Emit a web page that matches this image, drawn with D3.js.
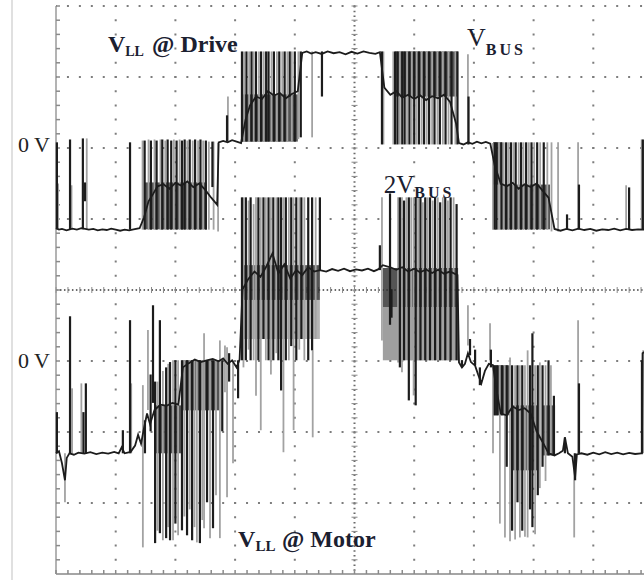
<!DOCTYPE html>
<html>
<head>
<meta charset="utf-8">
<script src="https://cdn.jsdelivr.net/npm/d3@7"></script>
<style>
  body { margin: 0; background: #fff; }
  svg { display: block; font-family: 'Liberation Serif', 'DejaVu Serif', serif; }
  .label { fill: #1b2030; }
</style>
</head>
<body>
<svg id="scope"></svg>
<script>
// Scope capture: time in ms (2 ms/div), voltage in V (200 V/div)
const timeDivs = [0, 2, 4, 6, 8, 10, 12, 14, 16, 18, 20];
const voltDivs = [-4, -3, -2, -1, 0, 1, 2, 3, 4];
const channelNames = ['drive', 'motor'];
const channelZero = [2.05, -0.99];        // channel 0 V position, in divisions
const zeroLabels = ['0 V', '0 V'];

// trace body [t, V]
const driveLine = [
  [0.00, -236], [0.10, -240], [0.20, -238], [0.35, -242], [0.55, -237], [0.70, -240], [0.85, -236],
  [1.10, -240], [1.25, -238], [1.40, -242], [1.55, -239], [1.70, -241], [1.85, -237], [2.00, -240],
  [2.15, -243], [2.30, -240], [2.45, -242], [2.60, -239], [2.80, -236], [2.95, -205], [3.10, -160],
  [3.25, -140], [3.40, -118], [3.60, -112], [3.80, -125], [4.00, -108], [4.20, -116], [4.40, -104],
  [4.60, -120], [4.80, -110], [5.00, -128], [5.20, -150], [5.40, -170], [5.45, 6], [5.60, 10],
  [5.75, 6], [5.90, 12], [6.05, 8], [6.20, 4], [6.35, 70], [6.50, 110], [6.70, 135], [6.90, 128],
  [7.10, 150], [7.30, 138], [7.50, 145], [7.70, 130], [7.90, 142], [8.10, 150], [8.25, 258],
  [8.40, 262], [8.55, 256], [8.70, 260], [8.90, 255], [9.10, 262], [9.30, 257], [9.50, 260],
  [9.70, 254], [9.90, 261], [10.10, 256], [10.30, 262], [10.50, 258], [10.70, 255], [10.85, 260],
  [11.00, 160], [11.20, 140], [11.40, 150], [11.60, 132], [11.80, 140], [12.00, 128], [12.20, 138],
  [12.40, 125], [12.60, 136], [12.80, 130], [13.00, 140], [13.20, 120], [13.40, 60], [13.50, 4],
  [13.65, 0], [13.80, 6], [13.95, 2], [14.10, 8], [14.25, 3], [14.40, 7], [14.55, 2], [14.70, -60],
  [14.90, -110], [15.10, -118], [15.30, -108], [15.50, -125], [15.70, -112], [15.90, -120],
  [16.10, -110], [16.30, -130], [16.50, -150], [16.70, -238], [16.90, -243], [17.10, -238],
  [17.30, -242], [17.50, -237], [17.70, -241], [17.90, -238], [18.10, -243], [18.30, -239],
  [18.50, -241], [18.70, -237], [18.90, -242], [19.10, -238], [19.30, -241], [19.50, -239], [19.70, -240]
];

// switching edges [t, V top, V bottom, tone] (tone 1 = dark, 0 = light)
const drivePulses = [
  [0.03, 6, -239, 1], [0.07, -110, -239, 0], [0.47, 14, -239, 1], [0.52, -115, -239, 0],
  [0.90, 17, -239, 1], [0.97, -107, -160, 1], [1.03, 17, -239, 0], [2.48, 6, -240, 1],
  [2.90, 11, -240, 0], [2.97, 11, -240, 1], [3.10, 14, -240, 0], [3.18, 11, -240, 1],
  [3.30, 14, -240, 0], [3.37, 11, -240, 1], [3.50, 14, -240, 0], [3.56, 14, -240, 1],
  [3.66, 11, -240, 0], [3.74, 14, -240, 1], [3.86, 11, -240, 1], [3.95, 14, -240, 0],
  [4.04, 11, -240, 1], [4.14, 14, -240, 0], [4.22, 11, -240, 1], [4.31, 14, -240, 1],
  [4.40, 11, -240, 0], [4.48, 14, -240, 1], [4.58, 11, -240, 0], [4.66, 14, -240, 1],
  [4.76, 11, -240, 0], [4.84, 14, -240, 1], [4.93, 11, -240, 0], [5.02, 11, -240, 1],
  [5.12, 8, -240, 0], [5.24, 8, -120, 1], [5.28, 8, -240, 0], [5.43, 4, -245, 0],
  [5.76, 135, 8, 0], [5.73, 82, 8, 1],
  [6.23, 262, 8, 1], [6.30, 262, 8, 0], [6.38, 262, 8, 1], [6.47, 262, 8, 0], [6.55, 262, 8, 1],
  [6.62, 262, 8, 0], [6.70, 262, 8, 1], [6.80, 262, 8, 0], [6.87, 262, 8, 1], [6.96, 262, 8, 0],
  [7.04, 262, 8, 1], [7.12, 262, 8, 1], [7.22, 262, 8, 0], [7.30, 262, 8, 1], [7.40, 262, 8, 0],
  [7.48, 262, 8, 1], [7.58, 262, 8, 0], [7.66, 262, 8, 1], [7.75, 262, 8, 0], [7.83, 262, 135, 1],
  [7.90, 262, 8, 0], [8.00, 262, 8, 1], [8.12, 262, 15, 0], [8.20, 262, 20, 1], [8.58, 262, 20, 0],
  [8.91, 262, 135, 1],
  [10.92, 262, 0, 1], [10.97, 262, 0, 0], [11.30, 262, 0, 0], [11.36, 262, 0, 1], [11.44, 262, 0, 1],
  [11.52, 262, 0, 0], [11.60, 262, 0, 1], [11.68, 262, 0, 1], [11.76, 262, 0, 0], [11.84, 262, 0, 1],
  [11.92, 262, 0, 0], [12.00, 262, 0, 1], [12.08, 262, 0, 0], [12.16, 262, 0, 1], [12.25, 262, 0, 0],
  [12.33, 262, 0, 1], [12.42, 262, 0, 0], [12.50, 262, 0, 1], [12.60, 262, 0, 0], [12.68, 262, 0, 1],
  [12.78, 262, 0, 0], [12.86, 262, 0, 1], [12.96, 262, 0, 0], [13.05, 262, 0, 1], [13.15, 262, 0, 0],
  [13.25, 262, 0, 1], [13.38, 262, 0, 0], [13.45, 262, 0, 1], [13.80, 254, 0, 0], [13.82, 135, 0, 1],
  [14.64, 4, -240, 0], [14.70, 6, -240, 1], [14.76, 6, -240, 1], [14.84, 6, -240, 0], [14.92, 6, -240, 1],
  [15.00, 6, -240, 0], [15.08, 6, -240, 1], [15.16, 6, -240, 0], [15.24, 6, -240, 1], [15.32, 6, -240, 0],
  [15.40, 6, -240, 1], [15.50, 6, -240, 0], [15.58, 6, -240, 1], [15.66, 6, -240, 0], [15.75, 6, -240, 1],
  [15.84, 6, -240, 0], [15.93, 6, -240, 1], [16.02, 6, -240, 0], [16.12, 6, -240, 1], [16.22, 6, -240, 0],
  [16.34, 6, -240, 1], [16.46, 6, -240, 0], [16.60, 6, -245, 0], [16.82, 6, -245, 0],
  [17.12, -197, -239, 1], [17.49, 6, -239, 0], [17.52, -113, -239, 1], [19.10, -115, -239, 0],
  [19.20, -121, -239, 1], [19.62, 14, -239, 0], [19.66, 14, -239, 1]
];

// dense switching areas [t start, t end, V top, V bottom, density]
const driveBands = [
  [2.98, 5.05, -107, -239, 0.8], [6.23, 8.10, 141, 8, 0.8], [11.36, 13.46, 262, 135, 0.8],
  [14.64, 14.95, 6, -113, 0.8], [14.95, 16.55, -113, -239, 0.8]
];

const motorLine = [
  [0.00, -262], [0.10, -256], [0.20, -290], [0.30, -338], [0.36, -275], [0.45, -262], [0.60, -266],
  [0.75, -260], [0.95, -263], [1.15, -259], [1.35, -264], [1.55, -260], [1.75, -263], [1.95, -258],
  [2.10, -262], [2.20, -245], [2.30, -262], [2.50, -258], [2.65, -240], [2.75, -210], [2.85, -235],
  [2.95, -190], [3.05, -150], [3.15, -180], [3.30, -140], [3.50, -125], [3.70, -128], [3.90, -120],
  [4.10, -125], [4.25, -20], [4.45, -8], [4.65, 2], [4.85, -5], [5.05, 0], [5.25, 4], [5.45, -3],
  [5.60, 5], [5.75, -10], [5.90, 0], [6.05, -20], [6.15, 2], [6.25, 200], [6.45, 230], [6.65, 250],
  [6.85, 235], [7.05, 265], [7.25, 301], [7.45, 245], [7.65, 270], [7.85, 230], [8.05, 255],
  [8.25, 240], [8.45, 262], [8.65, 250], [8.84, 254], [9.05, 250], [9.25, 257], [9.45, 252],
  [9.65, 258], [9.85, 251], [10.05, 256], [10.25, 253], [10.45, 258], [10.65, 251], [10.79, 256],
  [10.95, 268], [11.20, 262], [11.40, 255], [11.60, 262], [11.80, 250], [12.00, 258], [12.20, 248],
  [12.40, 256], [12.60, 246], [12.80, 255], [13.00, 244], [13.20, 250], [13.45, 240], [13.50, -6],
  [13.60, -20], [13.70, -10], [13.80, 20], [13.90, -5], [14.04, -15], [14.14, -40], [14.25, -65],
  [14.37, -30], [14.50, -10], [14.64, -14], [14.75, -80], [14.90, -150], [15.10, -155], [15.30, -130],
  [15.50, -140], [15.70, -135], [15.90, -150], [16.10, -200], [16.30, -230], [16.50, -262],
  [16.70, -268], [16.85, -262], [16.98, -255], [17.05, -217], [17.15, -262], [17.30, -272],
  [17.39, -330], [17.45, -265], [17.60, -262], [17.80, -266], [18.00, -260], [18.20, -265],
  [18.40, -259], [18.60, -264], [18.80, -260], [19.00, -265], [19.20, -261], [19.40, -264],
  [19.60, -262], [19.63, -262], [19.65, 20], [19.75, 25]
];

const motorPulses = [
  [0.03, -146, -262, 1], [0.30, -262, -400, 0], [0.47, 124, -262, 1], [0.54, -79, -262, 0],
  [0.85, -65, -262, 0], [0.92, -146, -262, 1], [1.00, -65, -262, 1], [2.24, -197, -262, 1],
  [2.48, 113, -262, 1], [2.52, -65, -262, 0], [2.91, -70, -527, 0], [2.98, -169, -262, 1],
  [3.08, 85, -140, 0], [3.17, -40, -200, 1], [3.25, 155, -120, 1],
  [3.32, -60, -515, 1], [3.40, -60, -480, 0], [3.48, 113, -487, 1], [3.58, -30, -507, 0],
  [3.69, -20, -501, 1], [3.76, -10, -470, 0], [3.82, -5, -507, 1], [3.92, 0, -507, 0],
  [4.00, 0, -460, 1], [4.09, 0, -493, 0], [4.22, 0, -479, 1], [4.30, 0, -440, 0],
  [4.39, 0, -493, 1], [4.48, 0, -420, 0], [4.56, 0, -507, 1], [4.64, 0, -470, 0],
  [4.72, 0, -513, 0], [4.82, 0, -515, 1], [4.90, 0, -450, 0], [4.96, 76, -473, 0],
  [5.06, 0, -400, 1], [5.16, 0, -501, 0], [5.26, 0, -473, 1], [5.36, 0, -380, 0],
  [5.49, 56, -501, 0], [5.57, 0, -200, 1], [5.66, 42, -90, 0], [5.73, 37, -386, 0],
  [5.80, 20, -60, 1], [5.93, 0, -290, 0], [6.10, 0, -107, 1],
  [6.23, 459, 0, 1], [6.28, 459, -20, 0], [6.36, 459, 0, 1], [6.45, 450, 30, 0], [6.52, 459, 0, 1],
  [6.62, 440, 0, 0], [6.70, 459, -100, 0], [6.78, 459, 0, 1], [6.86, 459, -197, 0], [6.95, 459, 60, 1],
  [7.03, 459, 0, 0], [7.12, 459, 0, 1], [7.20, 459, -40, 0], [7.28, 459, 0, 1], [7.38, 459, 20, 0],
  [7.45, 459, 0, 1], [7.54, 459, -85, 1], [7.62, 459, -259, 0], [7.70, 459, 0, 1], [7.80, 459, 0, 0],
  [7.88, 459, 40, 1], [7.96, 459, -197, 0], [8.05, 459, 0, 1], [8.15, 459, 30, 0], [8.22, 459, 60, 1],
  [8.32, 459, 0, 0], [8.45, 459, 0, 1], [8.58, 459, 28, 1], [8.60, 28, -217, 0], [8.70, 459, 60, 0],
  [8.84, 459, 254, 1],
  [10.85, 324, 254, 1], [10.92, 459, 56, 0], [11.19, 470, 100, 1], [11.24, 200, 120, 1],
  [11.46, 459, -6, 0], [11.52, 459, -20, 1], [11.59, 459, -34, 0], [11.66, 450, 0, 1],
  [11.74, 459, 30, 0], [11.82, 459, -113, 1], [11.90, 459, 0, 0], [11.98, 459, -99, 0],
  [12.05, 459, -127, 1], [12.13, 459, 0, 0], [12.21, 459, 0, 1], [12.29, 445, 0, 0],
  [12.37, 459, 0, 1], [12.45, 459, 0, 0], [12.53, 459, 0, 1], [12.62, 450, 0, 0],
  [12.70, 459, 0, 1], [12.79, 459, 0, 0], [12.87, 445, 0, 1], [12.96, 459, 0, 0],
  [13.04, 459, 0, 1], [13.13, 450, 0, 0], [13.22, 459, 0, 1], [13.32, 459, 0, 0], [13.42, 440, 0, 1],
  [13.60, 0, -20, 1], [13.80, 155, 42, 0], [13.87, 60, 14, 1], [14.04, 30, -14, 1],
  [14.20, -20, -70, 1], [14.54, 104, 0, 0], [14.57, 30, -20, 1],
  [14.64, -14, -262, 0], [14.70, -14, -155, 1], [14.78, -14, -155, 1], [14.87, -14, -460, 0],
  [14.94, -14, -155, 1], [15.04, -14, -499, 0], [15.10, -14, -300, 1], [15.21, 8, -510, 0],
  [15.28, -14, -480, 1], [15.38, -14, -505, 0], [15.46, -14, -400, 1], [15.54, -14, -499, 0],
  [15.62, -14, -480, 1], [15.71, -14, -497, 0], [15.80, 28, -499, 0], [15.88, -14, -420, 1],
  [15.96, 76, -470, 1], [16.05, -14, -490, 0], [16.14, -14, -380, 1], [16.21, -6, -360, 0],
  [16.30, -14, -300, 1], [16.40, -14, -340, 0], [16.50, 0, -268, 1], [16.58, -14, -262, 0],
  [16.68, -100, -268, 1],
  [17.05, -217, -262, 1], [17.36, -262, -499, 0], [17.39, -262, -338, 1], [17.49, 113, -262, 0],
  [17.52, -65, -262, 1], [19.63, 0, -262, 1], [19.67, 28, -262, 0]
];

const motorBands = [
  [3.30, 4.20, -127, -262, 0.8], [4.20, 5.50, 0, -141, 0.8], [6.23, 8.84, 268, 170, 0.8],
  [6.23, 8.84, 170, 60, 0.35], [10.95, 13.47, 260, 150, 0.8], [10.95, 13.47, 150, 0, 0.45],
  [14.64, 15.21, -14, -155, 0.8], [15.30, 16.15, -127, -310, 0.8], [16.30, 16.72, -127, -268, 0.8]
];

class scopeChart {

    constructor(_config) {
        this.config = {
            parentElement: _config.parentElement,
            containerWidth: _config.containerWidth || 644,
            containerHeight: _config.containerHeight || 580,
            margin: _config.margin || { top: 6, right: -9, bottom: 6, left: 56 },
            voltsPerDiv: 200
        }
        this.traces = [
            { line: driveLine, pulses: drivePulses, bands: driveBands },
            { line: motorLine, pulses: motorPulses, bands: motorBands }
        ];
        this.initVis();
    }

    initVis() {
        let vis = this;

        vis.width = vis.config.containerWidth - vis.config.margin.left - vis.config.margin.right;
        vis.height = vis.config.containerHeight - vis.config.margin.top - vis.config.margin.bottom;

        vis.svg = d3.select(vis.config.parentElement)
            .attr('width', vis.config.containerWidth)
            .attr('height', vis.config.containerHeight);

        vis.xScale = d3.scaleLinear()
            .domain([0, 20])
            .range([0, vis.width]);

        vis.yScale = d3.scaleLinear()
            .domain([-4, 4])
            .range([vis.height, 0]);

        // volts on a given channel -> pixel
        vis.yVolt = (v, ch) => vis.yScale(channelZero[ch] + v / vis.config.voltsPerDiv);

        // faint page edge
        vis.svg.append('line')
            .attr('x1', 12).attr('x2', 12)
            .attr('y1', 0).attr('y2', vis.config.containerHeight)
            .attr('stroke', '#d6d6d6').attr('stroke-width', 1.5);

        vis.chart = vis.svg.append('g')
            .attr('transform', `translate(${vis.config.margin.left},${vis.config.margin.top})`);

        vis.gridGroup = vis.chart.append('g').attr('class', 'grid');
        vis.traceGroup = vis.chart.append('g').attr('class', 'traces');
        vis.labelGroup = vis.chart.append('g').attr('class', 'labels');

        vis.updateVis();
    }

    updateVis() {
        let vis = this;
        vis.minorX = vis.xScale(0.4) - vis.xScale(0);
        vis.minorY = vis.yScale(-4) - vis.yScale(-3.8);
        vis.renderVis();
    }

    renderVis() {
        let vis = this;
        const dot = '#7d7d7d';

        // dotted graticule
        vis.gridGroup.selectAll('.vgrid')
            .data(timeDivs.filter(t => t !== 0 && t !== 10))
            .join('line')
            .attr('class', 'vgrid')
            .attr('x1', d => vis.xScale(d)).attr('x2', d => vis.xScale(d))
            .attr('y1', 0).attr('y2', vis.height)
            .attr('stroke', dot).attr('stroke-width', 2)
            .attr('stroke-dasharray', `2 ${vis.minorY - 2}`)
            .attr('stroke-dashoffset', 1);

        vis.gridGroup.selectAll('.hgrid')
            .data(voltDivs.filter(d => d !== 0 && d !== -4))
            .join('line')
            .attr('class', 'hgrid')
            .attr('x1', 0).attr('x2', vis.width)
            .attr('y1', d => vis.yScale(d)).attr('y2', d => vis.yScale(d))
            .attr('stroke', dot).attr('stroke-width', 2)
            .attr('stroke-dasharray', `2 ${vis.minorX - 2}`)
            .attr('stroke-dashoffset', 1);

        // centre axes with fine ticks
        const cx = vis.xScale(10), cy = vis.yScale(0);
        vis.gridGroup.append('line')
            .attr('x1', cx).attr('x2', cx).attr('y1', 0).attr('y2', vis.height)
            .attr('stroke', '#6a6a6a').attr('stroke-width', 2)
            .attr('stroke-dasharray', `1.5 ${vis.minorY / 3 - 1.5}`);
        vis.gridGroup.append('line')
            .attr('x1', 0).attr('x2', vis.width).attr('y1', cy).attr('y2', cy)
            .attr('stroke', '#6a6a6a').attr('stroke-width', 2)
            .attr('stroke-dasharray', `1.5 ${vis.minorX / 3 - 1.5}`);

        const minorT = d3.range(0, 20.01, 0.4);
        const minorD = d3.range(-4, 4.01, 0.2);

        vis.gridGroup.selectAll('.ctickx')
            .data(minorT)
            .join('line')
            .attr('class', 'ctickx')
            .attr('x1', d => vis.xScale(d)).attr('x2', d => vis.xScale(d))
            .attr('y1', cy - 3).attr('y2', cy + 3)
            .attr('stroke', '#8a8a8a').attr('stroke-width', 1);

        vis.gridGroup.selectAll('.cticky')
            .data(minorD)
            .join('line')
            .attr('class', 'cticky')
            .attr('x1', cx - 3).attr('x2', cx + 3)
            .attr('y1', d => vis.yScale(d)).attr('y2', d => vis.yScale(d))
            .attr('stroke', '#8a8a8a').attr('stroke-width', 1);

        // left and bottom frame
        vis.gridGroup.append('line')
            .attr('x1', 0).attr('x2', 0).attr('y1', 0).attr('y2', vis.height)
            .attr('stroke', '#9a9a9a').attr('stroke-width', 1.5);
        vis.gridGroup.selectAll('.ltick')
            .data(minorD)
            .join('line')
            .attr('class', 'ltick')
            .attr('x1', 0).attr('x2', 4)
            .attr('y1', d => vis.yScale(d)).attr('y2', d => vis.yScale(d))
            .attr('stroke', '#8a8a8a').attr('stroke-width', 1.5);

        vis.gridGroup.append('line')
            .attr('x1', 0).attr('x2', vis.width).attr('y1', vis.height).attr('y2', vis.height)
            .attr('stroke', '#a5a5a5').attr('stroke-width', 2);
        vis.gridGroup.selectAll('.btick')
            .data(minorT)
            .join('line')
            .attr('class', 'btick')
            .attr('x1', d => vis.xScale(d)).attr('x2', d => vis.xScale(d))
            .attr('y1', vis.height - 4).attr('y2', vis.height)
            .attr('stroke', '#8a8a8a').attr('stroke-width', 1.5);

        // traces
        vis.traces.forEach((tr, ch) => {
            const g = vis.traceGroup.append('g').attr('class', channelNames[ch]);

            g.selectAll('.band')
                .data(tr.bands)
                .join('rect')
                .attr('class', 'band')
                .attr('x', d => vis.xScale(d[0]))
                .attr('width', d => vis.xScale(d[1]) - vis.xScale(d[0]))
                .attr('y', d => vis.yVolt(d[2], ch))
                .attr('height', d => vis.yVolt(d[3], ch) - vis.yVolt(d[2], ch))
                .attr('fill', '#2b2b2b')
                .attr('opacity', d => d[4]);

            g.selectAll('.pulse')
                .data(tr.pulses.slice().sort((a, b) => a[3] - b[3]))
                .join('line')
                .attr('class', 'pulse')
                .attr('x1', d => vis.xScale(d[0])).attr('x2', d => vis.xScale(d[0]))
                .attr('y1', d => vis.yVolt(d[1], ch)).attr('y2', d => vis.yVolt(d[2], ch))
                .attr('stroke', d => d[3] ? '#1c1c1c' : '#a2a2a2')
                .attr('stroke-width', d => d[3] ? 2.2 : 1.8);

            g.append('path')
                .datum(tr.line)
                .attr('fill', 'none')
                .attr('stroke', '#1c1c1c')
                .attr('stroke-width', 1.8)
                .attr('d', d3.line().x(d => vis.xScale(d[0])).y(d => vis.yVolt(d[1], ch)));

            // channel 0 V marker
            vis.svg.append('text')
                .attr('x', vis.config.margin.left - 6)
                .attr('y', vis.config.margin.top + vis.yVolt(0, ch) + 8)
                .attr('text-anchor', 'end')
                .attr('font-size', 22)
                .attr('fill', '#222')
                .text(zeroLabels[ch]);
        });

        // annotations
        const note = (t, d, parts) => {
            const txt = vis.labelGroup.append('text')
                .attr('class', 'label')
                .attr('x', vis.xScale(t))
                .attr('y', vis.yScale(d));
            parts.forEach(p => {
                const ts = txt.append('tspan')
                    .attr('font-size', p.size)
                    .attr('font-weight', p.bold ? 'bold' : 'normal')
                    .text(p.text);
                if (p.dy) ts.attr('dy', p.dy);
                if (p.x !== undefined) ts.attr('x', vis.xScale(p.x));
                if (p.spacing) ts.attr('letter-spacing', p.spacing);
            });
        };

        note(1.74, 3.35, [
            { text: 'V', size: 24, bold: true },
            { text: 'LL', size: 14, bold: true, dy: 4 },
            { text: '@ Drive', size: 24, bold: true, dy: -4, x: 3.22 }
        ]);
        note(13.77, 3.44, [
            { text: 'V', size: 26 },
            { text: 'BUS', size: 16, bold: true, dy: 9, spacing: 3 }
        ]);
        note(10.98, 1.37, [
            { text: '2V', size: 25 },
            { text: 'BUS', size: 16, bold: true, dy: 5, spacing: 3 }
        ]);
        note(6.10, -3.62, [
            { text: 'V', size: 24, bold: true },
            { text: 'LL', size: 15, bold: true, dy: 4 },
            { text: '@ Motor', size: 24, bold: true, dy: -4, x: 7.57 }
        ]);
    }
}

new scopeChart({ parentElement: '#scope' });
</script>
</body>
</html>
